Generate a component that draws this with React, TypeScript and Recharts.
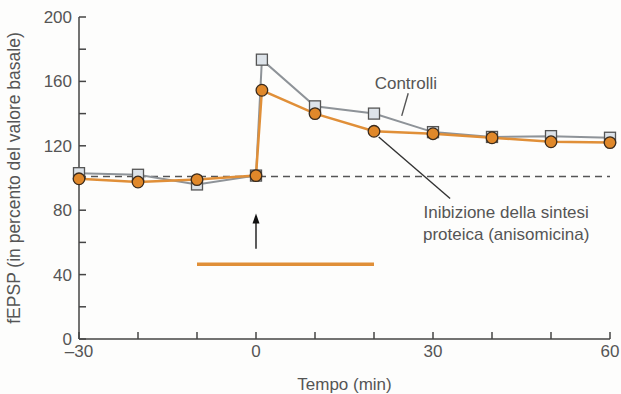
import React from 'react';
import { LineChart, Line, XAxis, YAxis, ReferenceLine, ReferenceDot, Label } from 'recharts';

const times = [-30, -20, -10, 0, 1, 10, 20, 30, 40, 50, 60];
const controlli = [103, 102, 96, 101.5, 173.5, 144.5, 140, 128.5, 125.5, 126, 125];
const anisomicina = [99.5, 97.5, 99, 101.5, 154.5, 140, 129, 127.5, 125, 122.5, 122];
const xTicks = [-30, -20, -10, 0, 10, 20, 30, 40, 50, 60];
const yTicks = [0, 20, 40, 60, 80, 100, 120, 140, 160, 180, 200];
const baseline = 101;
const treatmentStart = -10;
const treatmentEnd = 20;
const treatmentLevel = 46.5;
const arrowFrom = 56;
const arrowTo = 78;

const data = times.map((t, i) => ({ t, ctrl: controlli[i], aniso: anisomicina[i] }));

const FONT = '"Liberation Sans", Arial, Helvetica, sans-serif';
const GREY_TEXT = '#555';
const ORANGE = '#e08f38';

const Square = (props: any) => {
  const { cx, cy } = props;
  if (cx == null || cy == null) return null;
  const s = 11;
  return <rect x={cx - s / 2} y={cy - s / 2} width={s} height={s} fill="#dde3e9" stroke="#555" strokeWidth={1.3} />;
};

const Circle = (props: any) => {
  const { cx, cy } = props;
  if (cx == null || cy == null) return null;
  return <circle cx={cx} cy={cy} r={5.8} fill="#e0882a" stroke="#3b2b1c" strokeWidth={1.3} />;
};

const ArrowShape = (props: any) => {
  const { x1, y1, x2, y2 } = props;
  return (
    <g>
      <line x1={x1} y1={y1} x2={x2} y2={y2 + 8} stroke="#333" strokeWidth={1.6} />
      <polygon points={`${x2},${y2} ${x2 - 3.5},${y2 + 10} ${x2 + 3.5},${y2 + 10}`} fill="#111" />
    </g>
  );
};

const textLabel = (lines: string[]) => (props: any) => {
  const vb = props.viewBox || {};
  const cx = vb.x + (vb.width || 0) / 2;
  const cy = vb.y + (vb.height || 0) / 2;
  const lh = 22;
  const start = cy - ((lines.length - 1) * lh) / 2;
  return (
    <g>
      {lines.map((l, i) => (
        <text key={i} x={cx} y={start + i * lh} textAnchor="middle" dominantBaseline="central" fontFamily={FONT} fontSize={17} fill={GREY_TEXT}>
          {l}
        </text>
      ))}
    </g>
  );
};

const fmtX = (v: number) => (v % 30 === 0 ? (v < 0 ? '\u2013' + Math.abs(v) : String(v)) : '');
const fmtY = (v: number) => (v % 40 === 0 ? String(v) : '');

export default function App() {
  return (
    <div style={{ position: 'fixed', left: 0, top: 0, width: 621, height: 394, overflow: 'hidden', background: '#fdfdfc' }}>
      <LineChart width={621} height={394} data={data} margin={{ top: 17, right: 11, bottom: 0, left: 0 }}>
        <XAxis
          dataKey="t"
          type="number"
          domain={[-30, 60]}
          ticks={xTicks}
          tickFormatter={fmtX}
          tickSize={-7}
          tickMargin={13}
          height={55}
          stroke="#444"
          strokeWidth={1.5}
          tick={{ fill: GREY_TEXT, fontSize: 17, fontFamily: FONT }}
          interval={0}
        >
          <Label value="Tempo (min)" position="insideBottom" offset={4} fill={GREY_TEXT} fontSize={17} fontFamily={FONT} />
        </XAxis>
        <YAxis
          type="number"
          domain={[0, 200]}
          ticks={yTicks}
          tickFormatter={fmtY}
          tickSize={-7}
          tickMargin={14}
          width={79}
          stroke="#444"
          strokeWidth={1.5}
          tick={{ fill: GREY_TEXT, fontSize: 17, fontFamily: FONT }}
          interval={0}
        >
          <Label value="fEPSP (in percento del valore basale)" angle={-90} position="insideLeft" offset={14} fill={GREY_TEXT} fontSize={17.5} fontFamily={FONT} style={{ textAnchor: 'middle' }} />
        </YAxis>
        <ReferenceLine y={baseline} stroke="#555" strokeWidth={1.5} strokeDasharray="7 5" />
        <ReferenceLine segment={[{ x: treatmentStart, y: treatmentLevel }, { x: treatmentEnd, y: treatmentLevel }]} stroke={ORANGE} strokeWidth={3.5} />
        <ReferenceLine segment={[{ x: 0, y: arrowFrom }, { x: 0, y: arrowTo }]} shape={ArrowShape} />
        <ReferenceLine segment={[{ x: 25.8, y: 152.6 }, { x: 24.7, y: 138.6 }]} stroke="#555" strokeWidth={1.4} />
        <ReferenceLine segment={[{ x: 20.8, y: 125.5 }, { x: 32.9, y: 87.3 }]} stroke="#333" strokeWidth={1.4} />
        <ReferenceDot x={25.4} y={159} r={0} fill="none" stroke="none" label={textLabel(['Controlli'])} />
        <ReferenceDot x={42.4} y={72} r={0} fill="none" stroke="none" label={textLabel(['Inibizione della sintesi', 'proteica (anisomicina)'])} />
        <Line dataKey="ctrl" stroke="#8e9398" strokeWidth={2} dot={<Square />} isAnimationActive={false} />
        <Line dataKey="aniso" stroke={ORANGE} strokeWidth={2.5} dot={<Circle />} isAnimationActive={false} />
      </LineChart>
    </div>
  );
}
